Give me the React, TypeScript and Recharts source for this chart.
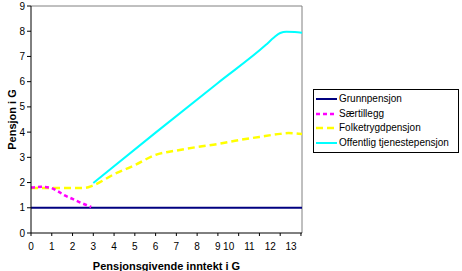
import React from 'react';
import { LineChart, Line, XAxis, YAxis, ReferenceLine } from 'recharts';

// x-axis ticks and y-axis ticks
const xTicks = [0, 1, 2, 3, 4, 5, 6, 7, 8, 9, 10, 11, 12, 13];
const yTicks = [0, 1, 2, 3, 4, 5, 6, 7, 8, 9];
const xMax = 13.05;

// series (x = pensjonsgivende inntekt i G, y = pensjon i G)
const grunnX = [0, 13.05];
const grunnY = [1, 1];

const saerX = [0, 0.5, 0.9, 1.3, 1.6, 2.0, 2.4, 2.9];
const saerY = [1.8, 1.83, 1.8, 1.65, 1.5, 1.35, 1.2, 1.03];

const folkX = [0, 1, 2, 2.6, 3, 4, 5, 6, 7, 8, 9, 10, 11, 12, 12.4, 13.05];
const folkY = [1.78, 1.78, 1.78, 1.79, 1.89, 2.33, 2.69, 3.1, 3.27, 3.41, 3.53, 3.68, 3.81, 3.93, 3.96, 3.92];

const offX = [3, 6, 9, 11.3, 11.7, 12.0, 12.3, 12.7, 13.05];
const offY = [1.98, 3.98, 5.95, 7.45, 7.75, 7.93, 7.98, 7.97, 7.94];

const toRows = (xs: number[], ys: number[]) => xs.map((x, i) => ({ x, y: ys[i] }));

const series = [
  { name: 'Grunnpensjon', data: toRows(grunnX, grunnY), color: '#000080', dash: undefined, width: 2 },
  { name: 'Særtillegg', data: toRows(saerX, saerY), color: '#FF00FF', dash: '4 3', width: 2.5 },
  { name: 'Folketrygdpensjon', data: toRows(folkX, folkY), color: '#FFFF00', dash: '7 4', width: 2.5 },
  { name: 'Offentlig tjenestepensjon', data: toRows(offX, offY), color: '#00FFFF', dash: undefined, width: 2 },
];

// draw order: yellow below magenta
const drawOrder = [0, 2, 1, 3];

const font = 'Arial, "Liberation Sans", sans-serif';

const XTick = (props: any) => {
  const { x, y, payload } = props;
  const shift = payload.value >= 10 ? -10 : 0;
  return (
    <text x={x + shift} y={y + 12} textAnchor="middle" fontSize={10} fontFamily={font} fill="#000">
      {payload.value}
    </text>
  );
};

const LegendBox = () => (
  <div
    style={{
      position: 'absolute',
      left: 313,
      top: 89,
      border: '1px solid #000',
      background: '#fff',
      width: 143,
      padding: '2px 0 2px 1px',
      fontFamily: font,
      fontSize: 10,
      lineHeight: '14.5px',
    }}
  >
    {series.map(s => (
      <div key={s.name} style={{ display: 'flex', alignItems: 'center', whiteSpace: 'nowrap' }}>
        <svg width={23} height={6} style={{ marginRight: 1 }}>
          <line x1={1} y1={3} x2={22} y2={3} stroke={s.color} strokeWidth={s.width} strokeDasharray={s.dash} />
        </svg>
        <span>{s.name}</span>
      </div>
    ))}
  </div>
);

export default function App() {
  return (
    <div style={{ position: 'fixed', left: 0, top: 0, width: 462, height: 271, background: '#fff' }}>
      <LineChart width={462} height={271} margin={{ top: 6, right: 160, left: 0, bottom: 0 }}>
        <XAxis
          type="number"
          dataKey="x"
          domain={[0, xMax]}
          ticks={xTicks}
          interval={0}
          allowDataOverflow
          stroke="#000"
          tickSize={3}
          height={38}
          tick={<XTick />}
          label={{
            value: 'Pensjonsgivende inntekt i G',
            position: 'insideBottom',
            offset: 1,
            style: { fontFamily: font, fontSize: 11, fontWeight: 'bold', fill: '#000' },
          }}
        />
        <YAxis
          type="number"
          domain={[0, 9]}
          ticks={yTicks}
          interval={0}
          stroke="#000"
          tickSize={4}
          width={31}
          tick={{ fontSize: 10, fontFamily: font, fill: '#000' }}
          label={{
            value: 'Pensjon i G',
            angle: -90,
            position: 'insideLeft',
            offset: 12,
            style: { fontFamily: font, fontSize: 11, fontWeight: 'bold', fill: '#000', textAnchor: 'middle' },
          }}
        />
        <ReferenceLine y={9} stroke="#808080" strokeWidth={1} />
        <ReferenceLine x={xMax} stroke="#808080" strokeWidth={1} />
        {drawOrder.map(i => {
          const s = series[i];
          return (
            <Line
              key={s.name}
              data={s.data}
              dataKey="y"
              name={s.name}
              type="monotone"
              stroke={s.color}
              strokeWidth={s.width}
              strokeDasharray={s.dash}
              dot={false}
              isAnimationActive={false}
            />
          );
        })}
      </LineChart>
      <LegendBox />
    </div>
  );
}
